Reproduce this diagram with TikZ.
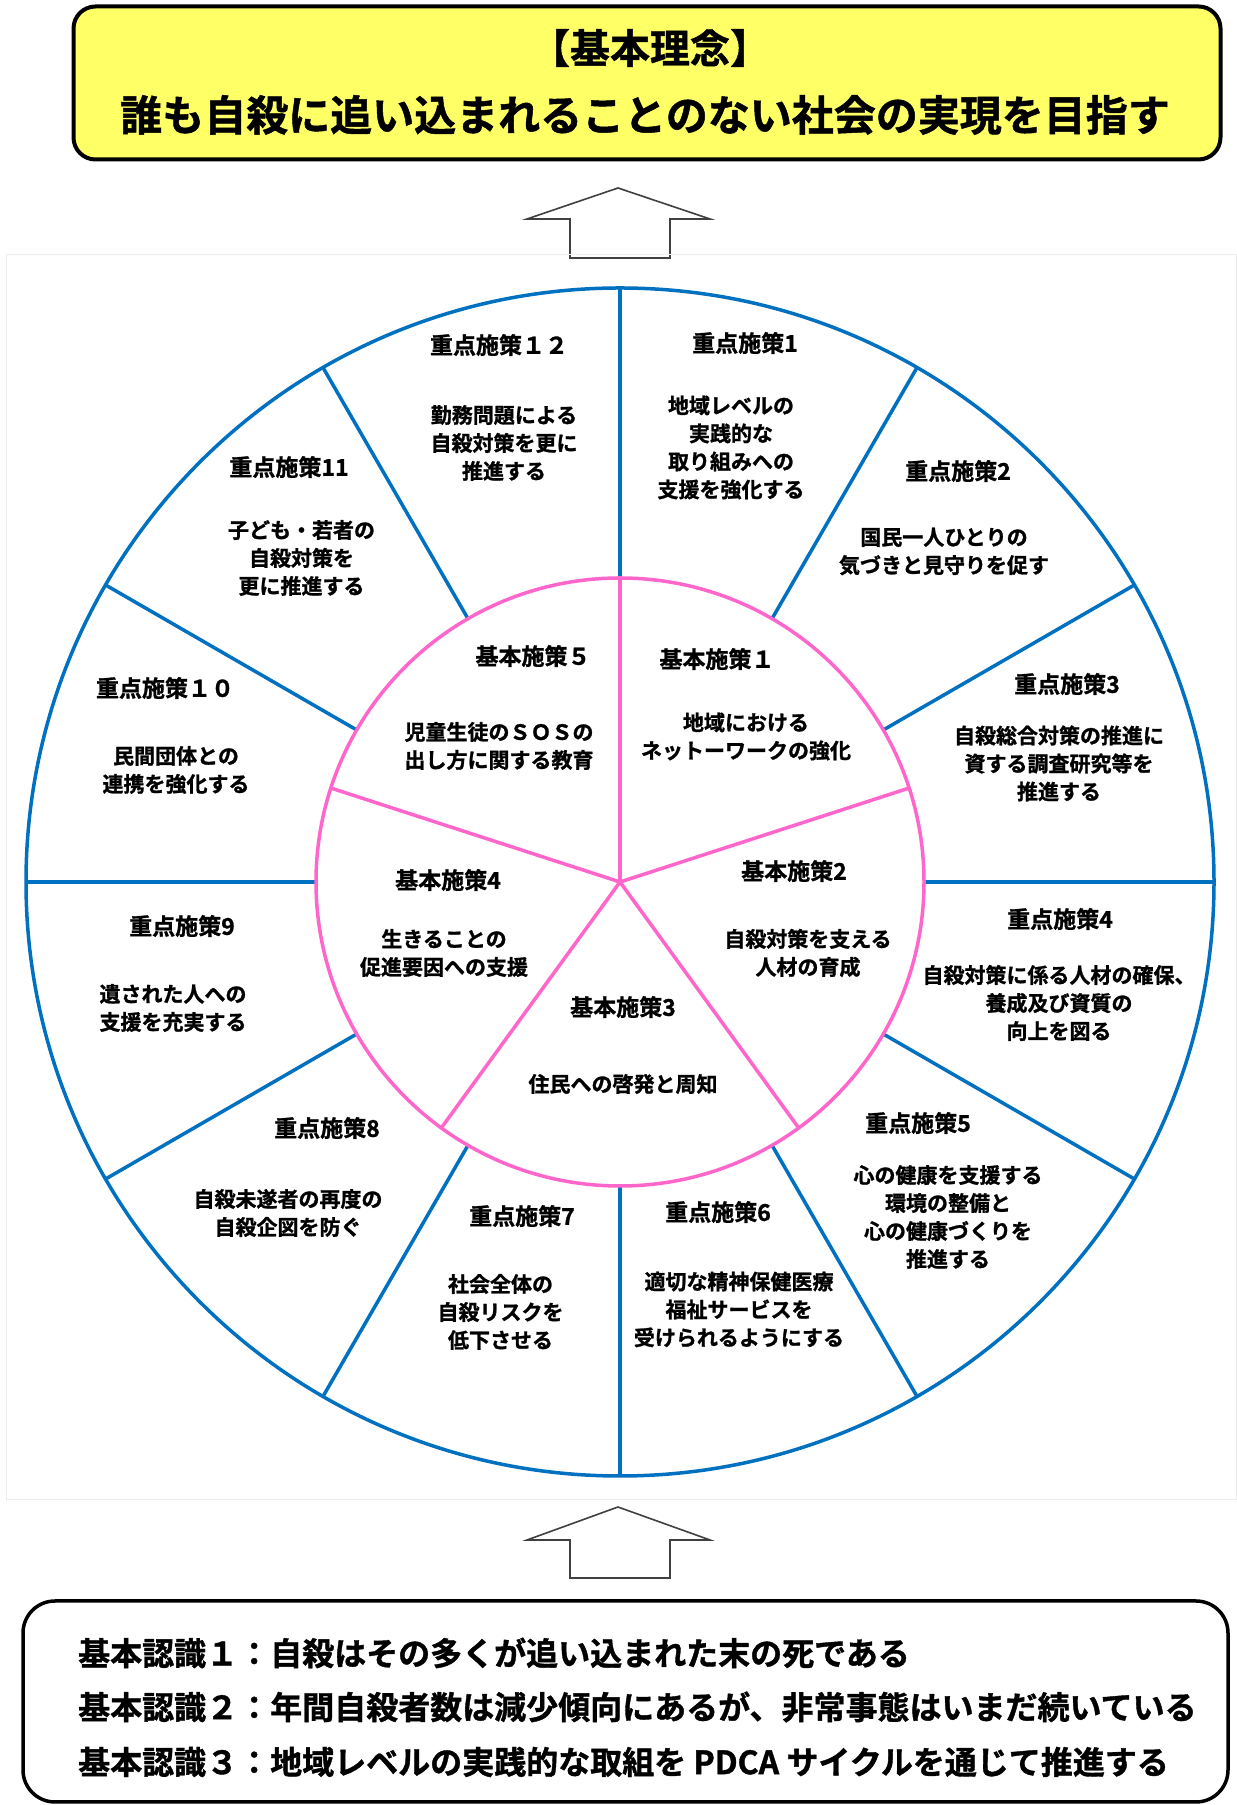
\documentclass[tikz,border=0pt]{standalone}
\usepackage{fontspec}
\setmainfont{Noto Sans CJK JP}[BoldFont={Noto Sans CJK JP Bold},BoldFeatures={FakeBold=1.2}]
\definecolor{wheelblue}{RGB}{0,112,192}
\definecolor{wheelpink}{RGB}{255,102,204}
\definecolor{ideayellow}{RGB}{255,255,102}

\begin{document}
\begin{tikzpicture}[x=1pt,y=1pt,
  ttl/.style={inner sep=0pt,font=\fontsize{23}{27}\selectfont\bfseries},
  txt/.style={inner sep=0pt,align=center,font=\fontsize{21}{28}\selectfont\bfseries},
  spoke/.style={wheelblue,line width=3.5pt},
  petal/.style={wheelpink,line width=3.5pt},
  uparr/.style={draw=black!75,fill=white,line width=1.6pt,line join=miter},
  ideabox/.style={draw=black,line width=4pt,fill=ideayellow,rounded corners=22pt,
                  minimum width=1147pt,minimum height=153pt,inner sep=0pt},
  recogbox/.style={draw=black,line width=3.5pt,fill=white,rounded corners=32pt,
                   minimum width=1205pt,minimum height=201pt,inner sep=0pt},
  rline/.style={anchor=west,inner sep=0pt,font=\fontsize{32}{36}\selectfont\bfseries}
]
\useasboundingbox (0,0) rectangle (1237,1805);
\fill[white] (0,0) rectangle (1237,1805);

% basic philosophy
\node[ideabox] (idea) at (647,1722) {};
\node[inner sep=0pt,font=\fontsize{40}{44}\selectfont\bfseries] (ideahead) at (650,1757) {【基本理念】};
\node[inner sep=0pt,font=\fontsize{42}{48}\selectfont\bfseries] (ideatext) at (645,1690) {誰も自殺に追い込まれることのない社会の実現を目指す};
\draw[uparr] (570,1547) -- (570,1586) -- (527,1586) -- (618,1617) -- (710,1586) -- (670,1586) -- (670,1547) -- cycle;

% the wheel
\draw[gray!15,line width=1pt] (6,305) rectangle (1236.5,1550);
\coordinate (c) at (620,923);
\draw[spoke] (c) circle[radius=594];
\foreach \a in {0,30,...,330} \draw[spoke] (c) ++(\a:304) -- ++(\a:290);
\draw[petal,fill=white] (c) circle[radius=304];
\foreach \a in {90,18,-54,-126,162} \draw[petal] (c) -- ++(\a:304);

% priority measures (outer ring)
\node[ttl] (j1t) at (745,1462) {重点施策1};
\node[txt] (j1) at (731,1357.5) {地域レベルの\\実践的な\\取り組みへの\\支援を強化する};
\node[ttl] (j2t) at (958,1334) {重点施策2};
\node[txt] (j2) at (944,1253.5) {国民一人ひとりの\\気づきと見守りを促す};
\node[ttl] (j3t) at (1067,1121) {重点施策3};
\node[txt] (j3) at (1059,1041.5) {自殺総合対策の推進に\\資する調査研究等を\\推進する};
\node[ttl] (j4t) at (1060,886) {重点施策4};
\node[txt] (j4) at (1059,802) {自殺対策に係る人材の確保、\\養成及び資質の\\向上を図る};
\node[ttl] (j5t) at (918,682) {重点施策5};
\node[txt] (j5) at (948,588) {心の健康を支援する\\環境の整備と\\心の健康づくりを\\推進する};
\node[ttl] (j6t) at (718,593) {重点施策6};
\node[txt] (j6) at (739,495.5) {適切な精神保健医療\\福祉サービスを\\受けられるようにする};
\node[ttl] (j7t) at (522,589) {重点施策7};
\node[txt] (j7) at (500.5,493) {社会全体の\\自殺リスクを\\低下させる};
\node[ttl] (j8t) at (327,677) {重点施策8};
\node[txt] (j8) at (288,592) {自殺未遂者の再度の\\自殺企図を防ぐ};
\node[ttl] (j9t) at (182,879) {重点施策9};
\node[txt] (j9) at (173,797) {遺された人への\\支援を充実する};
\node[ttl] (j10t) at (165,1117) {重点施策１０};
\node[txt] (j10) at (176,1035) {民間団体との\\連携を強化する};
\node[ttl] (j11t) at (289,1338) {重点施策11};
\node[txt] (j11) at (301.5,1247) {子ども・若者の\\自殺対策を\\更に推進する};
\node[ttl] (j12t) at (499,1460) {重点施策１２};
\node[txt] (j12) at (504,1362) {勤務問題による\\自殺対策を更に\\推進する};

% basic measures (inner ring)
\node[ttl] (k1t) at (717,1146) {基本施策１};
\node[txt] (k1) at (746,1068.5) {地域における\\ネットーワークの強化};
\node[ttl] (k2t) at (794,934) {基本施策2};
\node[txt] (k2) at (808,852) {自殺対策を支える\\人材の育成};
\node[ttl] (k3t) at (623,798) {基本施策3};
\node[txt] (k3) at (623,721) {住民への啓発と周知};
\node[ttl] (k4t) at (448,925) {基本施策4};
\node[txt] (k4) at (444,852) {生きることの\\促進要因への支援};
\node[ttl] (k5t) at (533,1149) {基本施策５};
\node[txt] (k5) at (499,1059) {児童生徒のＳＯＳの\\出し方に関する教育};

% basic recognition
\draw[uparr] (570,227) -- (570,265) -- (527,265) -- (618,298) -- (710,265) -- (670,265) -- (670,227) -- cycle;
\node[recogbox] (recog) at (625.5,103.5) {};
\node[rline] (r1) at (78,152) {基本認識１：自殺はその多くが追い込まれた末の死である};
\node[rline] (r2) at (78,98) {基本認識２：年間自殺者数は減少傾向にあるが、非常事態はいまだ続いている};
\node[rline] (r3) at (78,43) {基本認識３：地域レベルの実践的な取組を PDCA サイクルを通じて推進する};
\end{tikzpicture}
\end{document}
